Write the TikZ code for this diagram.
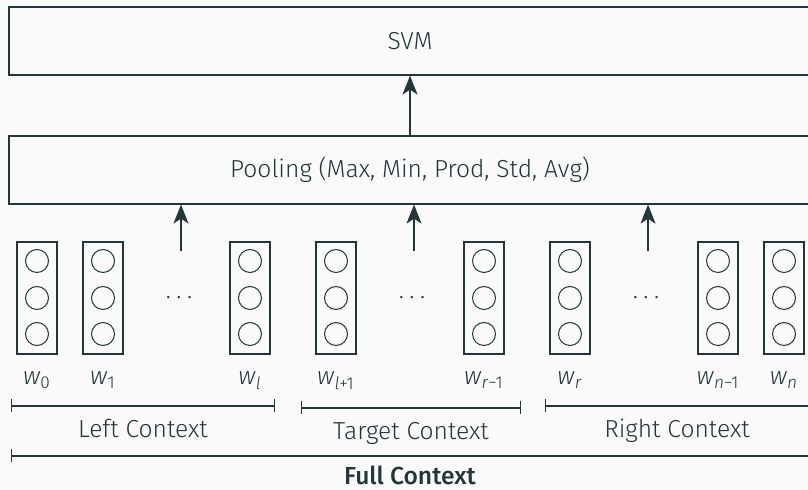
\documentclass[tikz,border=0pt]{standalone}
\usepackage{fontspec}
\setmainfont{Fira Sans}[UprightFont={* Light}, ItalicFont={* Light Italic}, BoldFont={* Medium}]
\usetikzlibrary{arrows.meta}
\definecolor{mDarkTeal}{HTML}{23373B}
\definecolor{mBackground}{HTML}{FAFAFA}
\newcommand{\wsub}[1]{\textit{w}\textsubscript{#1}}

\begin{document}
\begin{tikzpicture}[x=0.5pt, y=-0.5pt, font={\fontsize{12.3}{14}\selectfont}]
            \tikzset{layer box/.style={draw=mDarkTeal, line width=0.6pt, text=mDarkTeal, minimum width=401pt, minimum height=34pt, inner sep=0pt}};
            \tikzset{word vec/.style={draw=mDarkTeal, line width=0.6pt, minimum width=20pt, minimum height=56pt, inner sep=0pt}};
            \tikzset{unit/.style={circle, draw=mDarkTeal, line width=0.5pt, minimum size=11.5pt, inner sep=0pt}};
            \tikzset{word label/.style={text=mDarkTeal, anchor=base, inner sep=0pt}};
            \tikzset{arrow/.style={-{Stealth[length=9.5pt, width=7.5pt, inset=2.5pt]}, mDarkTeal, line width=0.6pt}};
            \tikzset{span/.style={{Bar[width=6.5pt]}-{Bar[width=6.5pt]}, mDarkTeal, line width=0.6pt}};
            \tikzset{span label/.style={text=mDarkTeal, anchor=base, inner sep=0pt}};
            \fill[mBackground] (0,0) rectangle (808,490);
            \useasboundingbox (0,0) rectangle (808,490);
            % Layers
            \node[layer box] (svm) at (410,41) {SVM};
            \node[layer box] (pool) at (410,170) {Pooling (Max, Min, Prod, Std, Avg)};
            \draw[arrow] (pool.north) -- (svm.south);
            % Word vectors
            \foreach \x/\name in {37/w0, 103/w1, 250/wl, 336/wlp, 484/wrm, 570/wr, 718/wnm, 784/wn} {
                \node[word vec] (\name) at (\x,298) {};
                \foreach \k/\y in {1/261, 2/298, 3/334}
                    \node[unit] (\name-\k) at (\x,\y) {};
            }
            \node[text=mDarkTeal, inner sep=0pt] (dots1) at (179,298) {.\kern2.8pt.\kern2.8pt.};
            \node[text=mDarkTeal, inner sep=0pt] (dots2) at (412,298) {.\kern2.8pt.\kern2.8pt.};
            \node[text=mDarkTeal, inner sep=0pt] (dots3) at (646,298) {.\kern2.8pt.\kern2.8pt.};
            % Inputs to pooling
            \coordinate (in1) at (181,251);
            \coordinate (in2) at (414,251);
            \coordinate (in3) at (648,251);
            \draw[arrow] (in1) -- (in1 |- pool.south);
            \draw[arrow] (in2) -- (in2 |- pool.south);
            \draw[arrow] (in3) -- (in3 |- pool.south);
            % Word labels
            \node[word label] (lab-w0) at (37,385) {\wsub{0}};
            \node[word label] (lab-w1) at (103,385) {\wsub{1}};
            \node[word label] (lab-wl) at (250,385) {\wsub{\textit{l}}};
            \node[word label] (lab-wlp) at (336,385) {\wsub{\textit{l}+1}};
            \node[word label] (lab-wrm) at (484,385) {\wsub{\textit{r}−1}};
            \node[word label] (lab-wr) at (570,385) {\wsub{\textit{r}}};
            \node[word label] (lab-wnm) at (718,385) {\wsub{\textit{n}−1}};
            \node[word label] (lab-wn) at (784,385) {\wsub{\textit{n}}};
            % Context spans
            \coordinate (left-a) at (11,406);
            \coordinate (left-b) at (275,406);
            \coordinate (target-a) at (301,408);
            \coordinate (target-b) at (521,408);
            \coordinate (right-a) at (545,406);
            \coordinate (right-b) at (830,406);
            \coordinate (full-a) at (11,456);
            \coordinate (full-b) at (830,456);
            \draw[span] (left-a) -- (left-b);
            \draw[span] (target-a) -- (target-b);
            \draw[span] (right-a) -- (right-b);
            \draw[span] (full-a) -- (full-b);
            \node[span label] (left) at (143,438) {Left Context};
            \node[span label] (target) at (411,440) {Target Context};
            \node[span label] (right) at (677,438) {Right Context};
            \node[span label] (full) at (410,485) {\textbf{Full Context}};
\end{tikzpicture}
\end{document}
